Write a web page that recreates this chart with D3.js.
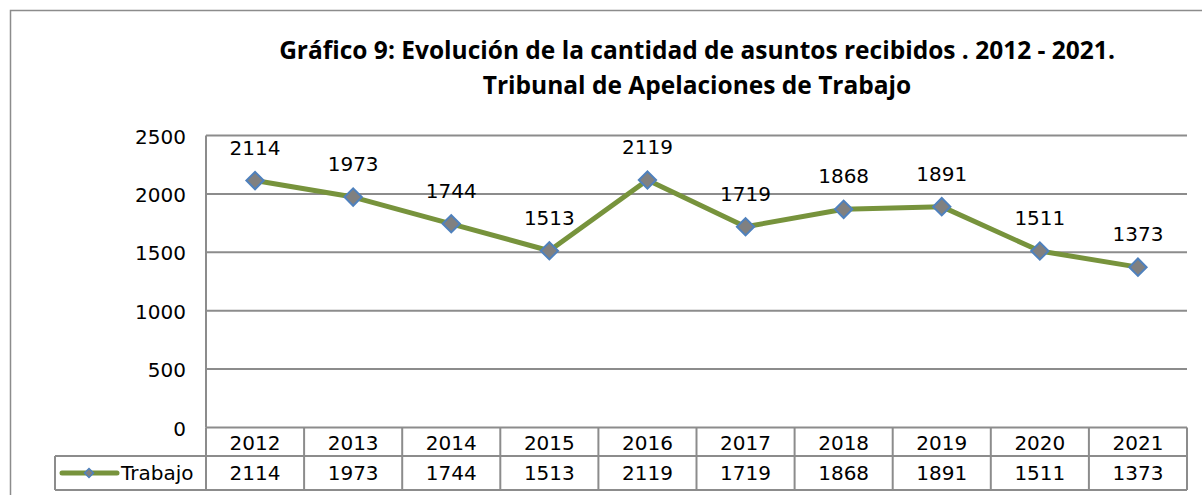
<!DOCTYPE html>
<html><head><meta charset="utf-8">
<script src="https://cdn.jsdelivr.net/npm/d3@7"></script>
<style>body{margin:0;background:#fff}svg{display:block}</style>
</head><body>
<script>
const categories = ["2012","2013","2014","2015","2016","2017","2018","2019","2020","2021"];
const values = [2114,1973,1744,1513,2119,1719,1868,1891,1511,1373];
const yTicks = [0,500,1000,1500,2000,2500];
const seriesName = "Trabajo";
const titleLines = ["Gráfico 9: Evolución de la cantidad de asuntos recibidos . 2012 - 2021.","Tribunal de Apelaciones de Trabajo"];

const W=1202,H=495;
const svg=d3.select("body").append("svg").attr("width",W).attr("height",H);
const font="'DejaVu Sans', Verdana, sans-serif";
const fs=20;
const grid="#8c8c8c";
svg.append("rect").attr("x",10.5).attr("y",10.5).attr("width",1220).attr("height",500).attr("fill","none").attr("stroke","#8c8c8c").attr("stroke-width",1.5);

const L=206,R=1187,T=135.5,B=427.5;
const x=d3.scaleBand().domain(categories).range([L,R]);
const y=d3.scaleLinear().domain([0,2500]).range([B,T]);

svg.append("g").selectAll("text").data(titleLines).join("text")
 .attr("x",697).attr("y",(d,i)=>59+i*35).attr("text-anchor","middle")
 .attr("font-family","'Open Sans', sans-serif").attr("font-weight","bold").attr("font-size",24.5).attr("fill","#000").text(d=>d);

// gridlines
svg.append("g").selectAll("line").data(yTicks.filter(d=>d>0)).join("line")
 .attr("x1",L).attr("x2",R).attr("y1",d=>y(d)).attr("y2",d=>y(d)).attr("stroke",grid).attr("stroke-width",2);
svg.append("line").attr("x1",L).attr("x2",L).attr("y1",T).attr("y2",B).attr("stroke",grid).attr("stroke-width",2);

// y labels
svg.append("g").selectAll("text").data(yTicks).join("text")
 .attr("x",186).attr("y",d=>y(d)+8).attr("text-anchor","end")
 .attr("font-family",font).attr("font-size",fs).attr("fill","#000").text(d=>d);

// table
const r1=B, r2=456, r3=490, legL=55;
const tg=svg.append("g").attr("stroke",grid).attr("stroke-width",2).attr("fill","none");
tg.append("line").attr("x1",L).attr("x2",R).attr("y1",r1).attr("y2",r1);
tg.append("line").attr("x1",legL).attr("x2",R).attr("y1",r2).attr("y2",r2);
tg.append("line").attr("x1",legL).attr("x2",R).attr("y1",r3).attr("y2",r3);
tg.append("line").attr("x1",legL).attr("x2",legL).attr("y1",r2).attr("y2",r3);
tg.selectAll("line.v").data(categories).join("line").attr("class","v")
 .attr("x1",d=>x(d)+x.bandwidth()).attr("x2",d=>x(d)+x.bandwidth()).attr("y1",r1).attr("y2",r3);
tg.append("line").attr("x1",L).attr("x2",L).attr("y1",r1).attr("y2",r3);

svg.append("g").selectAll("text").data(categories).join("text")
 .attr("x",d=>x(d)+x.bandwidth()/2).attr("y",r1+22).attr("text-anchor","middle")
 .attr("font-family",font).attr("font-size",fs).text(d=>d);
svg.append("g").selectAll("text").data(values).join("text")
 .attr("x",(d,i)=>x(categories[i])+x.bandwidth()/2).attr("y",r2+24).attr("text-anchor","middle")
 .attr("font-family",font).attr("font-size",fs).text(d=>d);

// legend
svg.append("line").attr("x1",62).attr("x2",117).attr("y1",473).attr("y2",473).attr("stroke","#77933C").attr("stroke-width",5).attr("stroke-linecap","round");
svg.append("path").attr("d",d3.symbol(d3.symbolSquare,40)()).attr("transform","translate(89,473) rotate(45)")
 .attr("fill","#808080").attr("stroke","#4F81BD").attr("stroke-width",1.5);
svg.append("text").attr("x",121).attr("y",480).attr("font-family",font).attr("font-size",fs).text(seriesName);

// line
const cx=(d,i)=>x(categories[i])+x.bandwidth()/2;
svg.append("path").datum(values).attr("d",d3.line().x(cx).y(d=>y(d)))
 .attr("fill","none").attr("stroke","#77933C").attr("stroke-width",5).attr("stroke-linejoin","round");
svg.append("g").selectAll("path").data(values).join("path")
 .attr("d",d3.symbol(d3.symbolSquare,150)()).attr("transform",(d,i)=>`translate(${cx(d,i)},${y(d)}) rotate(45)`)
 .attr("fill","#808080").attr("stroke","#4F81BD").attr("stroke-width",2);
svg.append("g").selectAll("text").data(values).join("text")
 .attr("x",cx).attr("y",d=>y(d)-26).attr("text-anchor","middle")
 .attr("font-family",font).attr("font-size",fs).text(d=>d);
</script>
</body></html>
